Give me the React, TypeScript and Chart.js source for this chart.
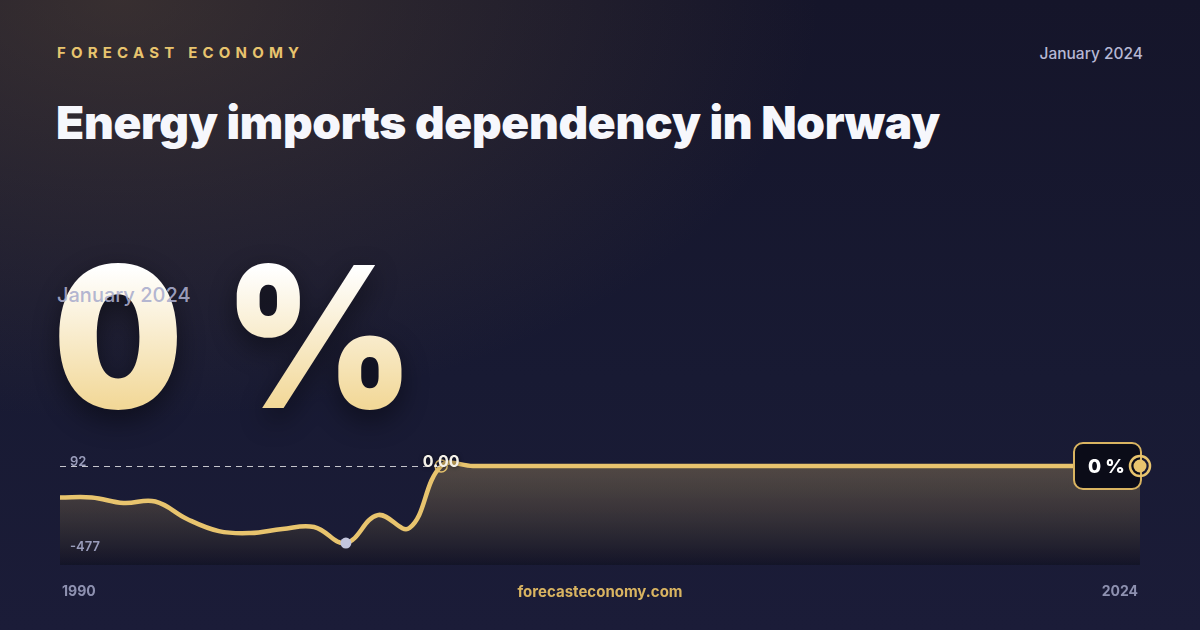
import React, { useEffect, useRef } from "react";
import { Chart, registerables } from "chart.js";

Chart.register(...registerables);

const years: string[] = [];
for (let y = 1990; y <= 2024; y++) years.push(String(y));

const values: number[] = [
  -195, -195, -229, -220, -328, -403, -415, -390, -378, -477,
  -304, -384, 0, 0, 0, 0, 0, 0, 0, 0,
  0, 0, 0, 0, 0, 0, 0, 0, 0, 0,
  0, 0, 0, 0, 0,
];

const topTickLabel = "92";
const bottomTickLabel = "-477";
const peakLabel = "0.00";
const lastLabel = "0 %";
const firstYear = "1990";
const lastYear = "2024";

const GOLD = "#e8c46e";
const FONT = "Inter, 'Noto Sans', sans-serif";

const markersPlugin = {
  id: "markers",
  afterDatasetsDraw(chart: any) {
    const ctx = chart.ctx as CanvasRenderingContext2D;
    const xs = chart.scales.x;
    const ys = chart.scales.y;
    const area = chart.chartArea;
    let maxI = 0, minI = 0;
    values.forEach((v, i) => {
      if (v > values[maxI]) maxI = i;
      if (v < values[minI]) minI = i;
    });
    const lastI = values.length - 1;
    const px = xs.getPixelForValue(maxI);
    const py = ys.getPixelForValue(values[maxI]);
    const mx = xs.getPixelForValue(minI);
    const my = ys.getPixelForValue(values[minI]);
    const lx = xs.getPixelForValue(lastI);
    const ly = ys.getPixelForValue(values[lastI]);

    ctx.save();
    // dashed max line
    ctx.strokeStyle = "rgba(255,255,255,0.75)";
    ctx.lineWidth = 1;
    ctx.setLineDash([6, 5]);
    ctx.beginPath();
    ctx.moveTo(area.left, py + 0.5);
    ctx.lineTo(px, py + 0.5);
    ctx.stroke();
    ctx.setLineDash([]);

    // tick labels
    ctx.font = `600 13px ${FONT}`;
    ctx.fillStyle = "#9a9dbb";
    ctx.textAlign = "left";
    ctx.textBaseline = "middle";
    ctx.fillText(topTickLabel, area.left + 10, py - 4);
    ctx.fillText(bottomTickLabel, area.left + 10, my + 4);

    // peak marker
    ctx.strokeStyle = GOLD;
    ctx.lineWidth = 1.5;
    ctx.beginPath();
    ctx.arc(px, py, 6, 0, Math.PI * 2);
    ctx.stroke();
    ctx.font = `700 16px ${FONT}`;
    ctx.textAlign = "center";
    ctx.fillStyle = "#f4f1e8";
    ctx.shadowColor = "rgba(0,0,0,0.6)";
    ctx.shadowBlur = 4;
    ctx.fillText(peakLabel, px, py - 4);
    ctx.shadowBlur = 0;
    ctx.shadowColor = "transparent";

    // min marker
    ctx.fillStyle = "#c3c6de";
    ctx.beginPath();
    ctx.arc(mx, my, 5.5, 0, Math.PI * 2);
    ctx.fill();

    // last value box
    const bw = 67, bh = 46, r = 9;
    const bx = lx - bw + 1, by = ly - bh / 2;
    ctx.fillStyle = "#0b0c18";
    ctx.strokeStyle = "#d9b461";
    ctx.lineWidth = 2;
    ctx.beginPath();
    ctx.roundRect(bx, by, bw, bh, r);
    ctx.fill();
    ctx.stroke();
    ctx.fillStyle = "#ffffff";
    ctx.font = `800 19px ${FONT}`;
    ctx.textAlign = "center";
    ctx.fillText(lastLabel, bx + bw / 2 - 1, ly + 1);

    // last point marker
    ctx.strokeStyle = GOLD;
    ctx.lineWidth = 2.5;
    ctx.beginPath();
    ctx.arc(lx, ly, 10, 0, Math.PI * 2);
    ctx.stroke();
    ctx.fillStyle = GOLD;
    ctx.beginPath();
    ctx.arc(lx, ly, 6.5, 0, Math.PI * 2);
    ctx.fill();

    // x labels
    ctx.font = `700 14px ${FONT}`;
    ctx.fillStyle = "#8e91b0";
    ctx.textBaseline = "middle";
    ctx.textAlign = "left";
    ctx.fillText(firstYear, area.left + 2, 592);
    ctx.textAlign = "right";
    ctx.fillText(lastYear, area.right - 2, 592);
    ctx.restore();
  },
};

export default function App() {
  const ref = useRef<HTMLCanvasElement>(null);

  useEffect(() => {
    document.body.style.margin = "0";
    const canvas = ref.current!;
    const chart = new Chart(canvas, {
      type: "line",
      data: {
        labels: years,
        datasets: [
          {
            data: values,
            borderColor: GOLD,
            borderWidth: 4.5,
            tension: 0.4,
            pointRadius: 0,
            fill: "start",
            backgroundColor: (c: any) => {
              const a = c.chart.chartArea;
              if (!a) return "rgba(232,196,110,0.2)";
              const g = c.chart.ctx.createLinearGradient(0, a.top + 26, 0, a.bottom);
              g.addColorStop(0, "rgba(232,196,110,0.27)");
              g.addColorStop(1, "rgba(8,8,14,0.35)");
              return g;
            },
          },
        ],
      },
      options: {
        animation: false,
        responsive: false,
        maintainAspectRatio: false,
        events: [],
        layout: { padding: { left: 60, right: 60, top: 440, bottom: 65 } },
        scales: {
          x: { type: "category", display: false, offset: false },
          y: { display: false, min: -613, max: 161 },
        },
        plugins: {
          legend: { display: false },
          tooltip: { enabled: false },
        },
      },
      plugins: [markersPlugin],
    });
    return () => chart.destroy();
  }, []);

  return (
    <div
      style={{
        position: "fixed",
        left: 0,
        top: 0,
        width: 1200,
        height: 630,
        overflow: "hidden",
        fontFamily: FONT,
        background:
          "radial-gradient(ellipse 700px 420px at 120px 0px, rgba(120,95,60,0.35), rgba(120,95,60,0) 100%), linear-gradient(180deg, #15152a 0%, #181a33 60%, #1b1c38 100%)",
      }}
    >
      <div
        style={{
          position: "absolute",
          left: 57,
          top: 43,
          fontSize: 15,
          fontWeight: 700,
          letterSpacing: "5.2px",
          color: GOLD,
          lineHeight: "20px",
        }}
      >
        FORECAST ECONOMY
      </div>
      <div
        style={{
          position: "absolute",
          right: 57,
          top: 44,
          fontSize: 15.5,
          fontWeight: 500,
          color: "#b6b8d4",
          lineHeight: "20px",
        }}
      >
        January 2024
      </div>
      <div
        style={{
          position: "absolute",
          left: 56,
          top: 96,
          fontSize: 46,
          fontWeight: 900,
          color: "#f6f7fc",
          letterSpacing: "-0.3px",
          lineHeight: "52px",
          whiteSpace: "nowrap",
        }}
      >
        Energy imports dependency in Norway
      </div>
      <div
        style={{
          position: "absolute",
          left: 53,
          top: 222,
          fontSize: 196,
          fontWeight: 900,
          lineHeight: "230px",
          letterSpacing: "2px",
          whiteSpace: "nowrap",
          transform: "scaleX(0.935)",
          transformOrigin: "0 0",
          background: "linear-gradient(180deg, #ffffff 20%, #f2d898 80%)",
          WebkitBackgroundClip: "text",
          backgroundClip: "text",
          color: "transparent",
          filter: "drop-shadow(0px 10px 14px rgba(0,0,0,0.45))",
        }}
      >
        0 %
      </div>
      <div
        style={{
          position: "absolute",
          left: 57,
          top: 283,
          fontSize: 20,
          fontWeight: 500,
          color: "rgba(170,173,205,0.9)",
          lineHeight: "24px",
        }}
      >
        January 2024
      </div>
      <canvas
        ref={ref}
        width={1200}
        height={630}
        style={{ position: "absolute", left: 0, top: 0, width: 1200, height: 630 }}
      />
      <div
        style={{
          position: "absolute",
          left: 0,
          width: 1200,
          top: 582,
          textAlign: "center",
          fontSize: 15,
          fontWeight: 700,
          color: "#d9b461",
          lineHeight: "20px",
        }}
      >
        forecasteconomy.com
      </div>
    </div>
  );
}
